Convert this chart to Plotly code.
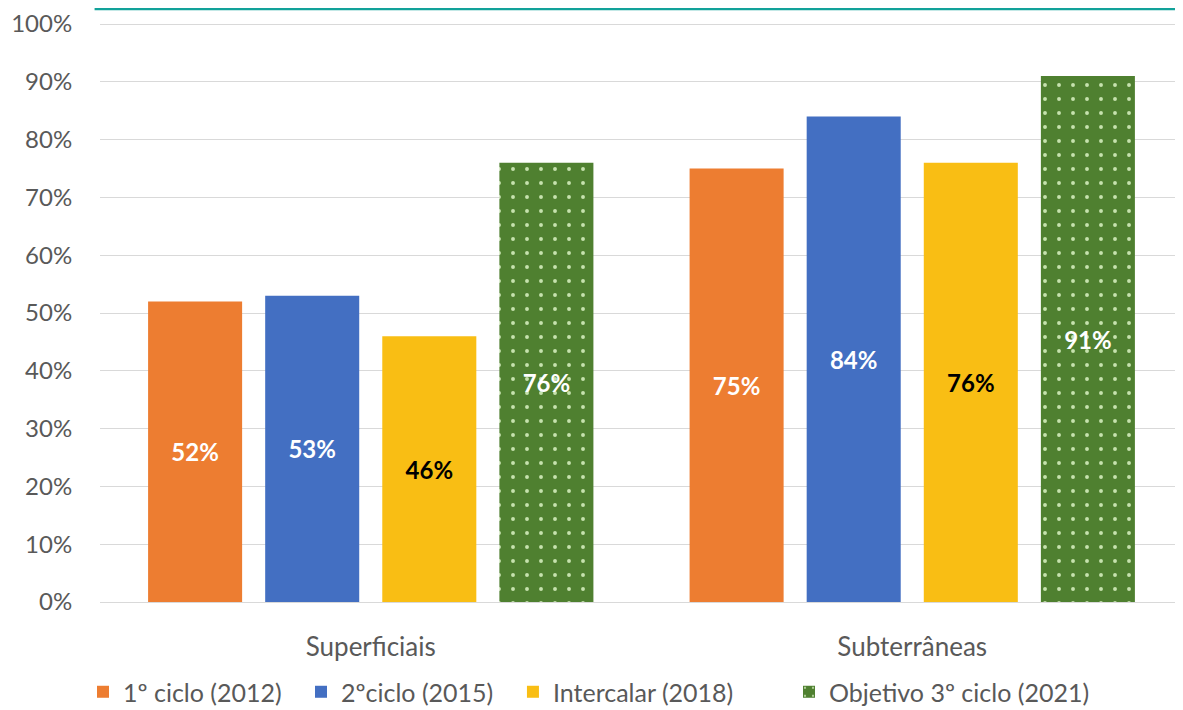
import plotly.graph_objects as go

categories = ["Superficiais", "Subterrâneas"]
series_names = ["1º ciclo (2012)", "2ºciclo (2015)", "Intercalar (2018)", "Objetivo 3º ciclo (2021)"]
ciclo1 = [52, 75]
ciclo2 = [53, 84]
intercalar = [46, 76]
objetivo = [76, 91]
y_ticks = list(range(0, 101, 10))
y_tick_labels = [f"{v}%" for v in y_ticks]

FONT = "Lato, 'Open Sans', sans-serif"
GREY = "#595959"

fig = go.Figure()

specs = [
    (series_names[0], ciclo1, "#ED7D31", "white", None, "legend"),
    (series_names[1], ciclo2, "#436FC2", "white", None, "legend2"),
    (series_names[2], intercalar, "#F9BE14", "black", None, "legend3"),
    (series_names[3], objetivo, "#4F8030", "white", ".", "legend4"),
]

for name, vals, color, tcolor, pat, leg in specs:
    marker = dict(color=color, line=dict(width=0))
    if pat:
        marker["pattern"] = dict(shape=pat, fgcolor="#C6E2AE", bgcolor=color,
                                 size=14, solidity=0.06, fillmode="replace")
    fig.add_trace(go.Bar(
        name=name, x=categories, y=vals, marker=marker, legend=leg,
        texttemplate="%{y}%", textposition="inside", insidetextanchor="middle",
        textangle=0,
        insidetextfont=dict(family=FONT, size=24, color=tcolor, weight="bold"),
    ))

leg_common = dict(orientation="h", xanchor="left", y=-0.1552, yanchor="middle",
                  font=dict(family=FONT, size=25, color=GREY), bgcolor="rgba(0,0,0,0)")
leg_x = [-0.0157, 0.1856, 0.3813, 0.6362]

fig.update_layout(
    width=1183, height=710,
    margin=dict(l=92, r=8, t=14, b=116, autoexpand=False),
    paper_bgcolor="white", plot_bgcolor="white",
    barmode="group", bargap=0.135, bargroupgap=0.197,
    font=dict(family=FONT, size=24, color=GREY),
    showlegend=True,
    legend=dict(x=leg_x[0], **leg_common),
    legend2=dict(x=leg_x[1], **leg_common),
    legend3=dict(x=leg_x[2], **leg_common),
    legend4=dict(x=leg_x[3], **leg_common),
)

fig.update_yaxes(
    automargin=False, ticklabeloverflow="allow",
    range=[0, 100.35], tickvals=y_ticks, ticktext=y_tick_labels,
    showgrid=True, gridcolor="#D9D9D9", gridwidth=1.3,
    zeroline=True, zerolinecolor="#D9D9D9", zerolinewidth=1.3,
    showline=False, ticks="outside", ticklen=22, tickcolor="rgba(0,0,0,0)",
    tickfont=dict(family=FONT, size=24, color=GREY),
)
fig.update_xaxes(
    automargin=False,
    showline=False, ticks="outside", ticklen=22, tickcolor="rgba(0,0,0,0)",
    tickfont=dict(family=FONT, size=26, color=GREY),
)

# decorative edges seen in the screenshot
fig.add_shape(type="line", xref="paper", yref="paper", x0=-0.005, x1=1.0, y0=1.0224, y1=1.0224,
              line=dict(color="#12A29A", width=2.5))
fig.add_shape(type="rect", xref="paper", yref="paper", x0=0.9954, x1=1.0, y0=-0.0259, y1=0.1414,
              line=dict(width=0), fillcolor="#5B9BD5")

fig.write_html("out.html")
